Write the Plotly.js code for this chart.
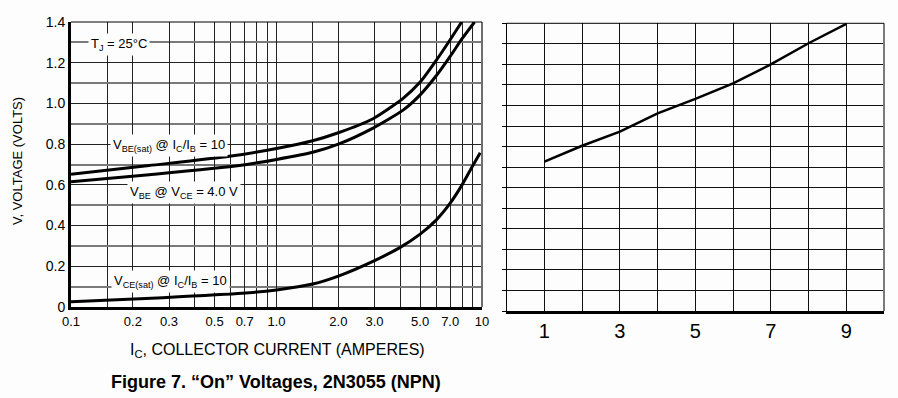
<!DOCTYPE html>
<html>
<head>
<meta charset="utf-8">
<script src="https://cdn.plot.ly/plotly-3.0.1.min.js"></script>
<style>html,body{margin:0;padding:0;background:#fcfdfc;}#chart{width:898px;height:398px;}</style>
</head>
<body>
<div id="chart"></div>
<script>
// ---- Left chart data (IC in amperes, voltages in volts) ----
const I_VBEsat = [0.1, 0.24, 0.59, 1.0, 1.5, 2.0, 2.95, 4.13, 5.0, 6.0, 7.0, 7.96];
const V_VBEsat = [0.652, 0.695, 0.740, 0.779, 0.817, 0.856, 0.925, 1.025, 1.105, 1.213, 1.313, 1.40];

const I_VBE = [0.1, 0.24, 0.66, 1.0, 1.5, 2.0, 2.95, 4.13, 5.0, 6.0, 7.0, 8.0, 9.2];
const V_VBE = [0.615, 0.650, 0.695, 0.725, 0.760, 0.800, 0.879, 0.967, 1.042, 1.137, 1.231, 1.318, 1.40];

const I_VCEsat = [0.1, 0.28, 0.68, 1.0, 1.5, 2.0, 3.0, 4.0, 5.0, 6.0, 7.0, 8.0, 9.0, 9.8];
const V_VCEsat = [0.026, 0.046, 0.067, 0.084, 0.113, 0.152, 0.228, 0.293, 0.358, 0.428, 0.51, 0.60, 0.693, 0.758];

// Left chart axis ticks
const xLabelVals = [0.1,0.2,0.3,0.5,0.7,1,2,3,5,7,10];
const xLabelText = ['0.1','0.2','0.3','0.5','0.7','1.0','2.0','3.0','5.0','7.0','10'];
const xMinorVals = [0.15,0.4,0.6,0.8,0.9,1.5,4,6,8,9];
const yVals = [0,0.2,0.4,0.6,0.8,1.0,1.2,1.4];
const yText = ['0','0.2','0.4','0.6','0.8','1.0','1.2','1.4'];
const yMinorVals = [0.1,0.3,0.5,0.7,0.9,1.1,1.3];

// ---- Right chart data ----
const rightX = [1,2,3,4,5,6,7,8,9];
const rightY = [7.27, 8.04, 8.73, 9.62, 10.32, 11.08, 12.0, 13.03, 13.97];
const rightLabelVals = [1,3,5,7,9];
const rightLabelText = ['1','3','5','7','9'];
const rightMinorVals = [0,2,4,6,8,10];

const FONT = '"Liberation Sans", Arial, Helvetica, sans-serif';
const BG = '#fcfdfc';
const W = 898, H = 398;
const px = v => v / W;
const py = v => 1 - v / H;

const lineStyle = {color:'#000', width:3, shape:'spline', smoothing:0.6};
const traces = [
  {x:I_VBEsat, y:V_VBEsat, xaxis:'x', yaxis:'y', mode:'lines', line:lineStyle, hoverinfo:'skip'},
  {x:I_VBE, y:V_VBE, xaxis:'x', yaxis:'y', mode:'lines', line:lineStyle, hoverinfo:'skip'},
  {x:I_VCEsat, y:V_VCEsat, xaxis:'x', yaxis:'y', mode:'lines', line:lineStyle, hoverinfo:'skip'},
  {x:rightX, y:rightY, xaxis:'x2', yaxis:'y2', mode:'lines', line:{color:'#000', width:2.5}, hoverinfo:'skip'}
];

const ann = (text, x, y, size, extra) => Object.assign({
  text, x:px(x), y:py(y), xref:'paper', yref:'paper', showarrow:false,
  xanchor:'center', yanchor:'middle', font:{family:FONT, size, color:'#000'},
  bgcolor:BG, borderpad:2
}, extra||{});

const layout = {
  width:W, height:H, margin:{l:0,r:0,t:0,b:0},
  paper_bgcolor:BG, plot_bgcolor:BG, showlegend:false,
  font:{family:FONT, color:'#000'},
  xaxis:{type:'log', domain:[px(71), px(482)], range:[-1,1], anchor:'y',
    tickmode:'array', tickvals:xLabelVals, ticktext:xLabelText,
    showgrid:true, gridcolor:'#222', gridwidth:1, zeroline:false,
    minor:{tickmode:'array', tickvals:xMinorVals, showgrid:true, gridcolor:'#222', gridwidth:1, ticks:''},
    showline:true, linecolor:'#000', linewidth:3, ticks:'',
    tickfont:{family:FONT, size:13, color:'#000'}, fixedrange:true},
  yaxis:{domain:[py(307), py(22)], range:[0,1.4], anchor:'x',
    tickmode:'array', tickvals:yVals, ticktext:yText,
    showgrid:true, gridcolor:'#222', gridwidth:1, zeroline:false,
    minor:{tickmode:'array', tickvals:yMinorVals, showgrid:true, gridcolor:'#7a7a7a', gridwidth:2, ticks:''},
    showline:true, linecolor:'#000', linewidth:3, ticks:'',
    tickfont:{family:FONT, size:14, color:'#000'}, fixedrange:true},
  xaxis2:{domain:[px(506.7), px(884)], range:[0,10], anchor:'y2',
    tickmode:'array', tickvals:rightLabelVals, ticktext:rightLabelText,
    showgrid:true, gridcolor:'#111', gridwidth:1, zeroline:false,
    minor:{tickmode:'array', tickvals:rightMinorVals, showgrid:true, gridcolor:'#111', gridwidth:1, ticks:''},
    showline:true, linecolor:'#000', linewidth:3, ticks:'',
    tickfont:{family:FONT, size:20, color:'#000'}, fixedrange:true},
  yaxis2:{domain:[py(311), py(23.3)], range:[0,14], anchor:'x2',
    tickmode:'linear', tick0:0, dtick:1, showticklabels:false,
    showgrid:true, gridcolor:'#111', gridwidth:1, zeroline:false,
    showline:true, linecolor:'#000', linewidth:1,
    ticks:'outside', ticklen:4, tickcolor:'#000', tickwidth:1, fixedrange:true},
  shapes:[
    {type:'line', xref:'x domain', yref:'y domain', x0:1, x1:1, y0:0, y1:1, line:{color:'#6e6e6e', width:2}},
    {type:'line', xref:'x domain', yref:'y domain', x0:0, x1:1, y0:1, y1:1, line:{color:'#000', width:1}},
    {type:'line', xref:'x2 domain', yref:'y2 domain', x0:1, x1:1, y0:0, y1:1, line:{color:'#7a7a7a', width:2}},
    {type:'line', xref:'x2 domain', yref:'y2 domain', x0:0, x1:1, y0:1, y1:1, line:{color:'#000', width:1}}
  ],
  annotations:[
    ann('T<sub>J</sub> = 25°C', 119, 44, 13),
    ann('V<sub>BE(sat)</sub> @ I<sub>C</sub>/I<sub>B</sub> = 10', 169, 146, 13),
    ann('V<sub>BE</sub> @ V<sub>CE</sub> = 4.0 V', 184, 192, 13),
    ann('V<sub>CE(sat)</sub> @ I<sub>C</sub>/I<sub>B</sub> = 10', 170, 281, 13),
    ann('I<sub>C</sub>, COLLECTOR CURRENT (AMPERES)', 277, 350, 16, {bgcolor:'rgba(0,0,0,0)'}),
    ann('V, VOLTAGE (VOLTS)', 18, 161, 13, {textangle:-90, bgcolor:'rgba(0,0,0,0)'}),
    ann('<b>Figure 7. “On” Voltages, 2N3055 (NPN)</b>', 276, 382, 18, {bgcolor:'rgba(0,0,0,0)'})
  ]
};

Plotly.newPlot('chart', traces, layout, {staticPlot:true, displayModeBar:false});
</script>
</body>
</html>
